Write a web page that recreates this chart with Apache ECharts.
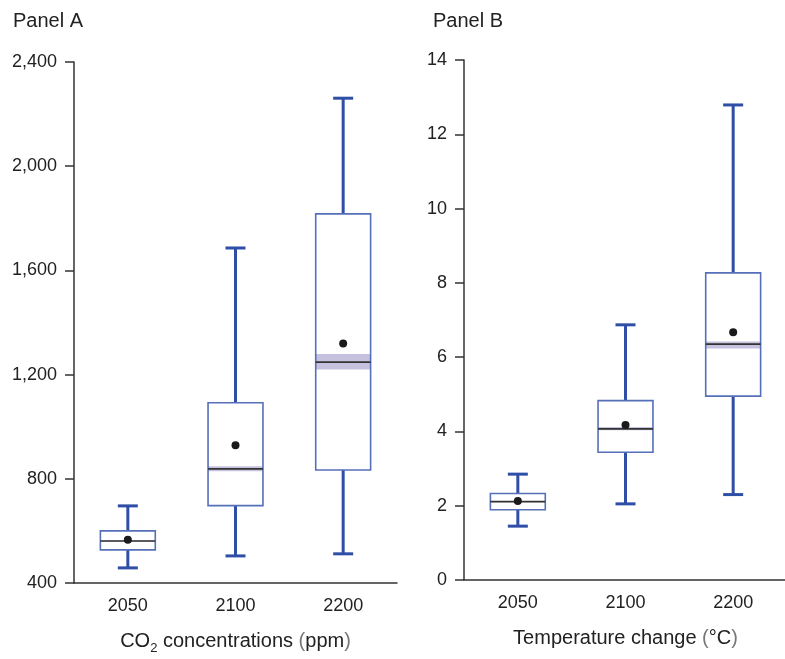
<!DOCTYPE html>
<html>
<head>
<meta charset="utf-8">
<script src="https://cdn.jsdelivr.net/npm/echarts@6/dist/echarts.min.js"></script>
<style>
  html, body { margin: 0; padding: 0; background: #fff; }
  #chart { width: 785px; height: 659px; }
</style>
</head>
<body>
<div id="chart"></div>
<script>
const categories = ['2050', '2100', '2200'];

// Panel A: CO2 concentrations (ppm)
const co2Low = [458, 504, 512];
const co2Q1 = [527, 697, 834];
const co2Median = [561, 838, 1248];
const co2Q3 = [600, 1092, 1817];
const co2High = [696, 1686, 2261];
const co2Mean = [566, 929, 1319];
const co2BandLow = [558, 829, 1220];
const co2BandHigh = [564, 848, 1279];

// Panel B: Temperature change (°C)
const tempLow = [1.45, 2.05, 2.30];
const tempQ1 = [1.89, 3.44, 4.95];
const tempMedian = [2.11, 4.07, 6.35];
const tempQ3 = [2.33, 4.83, 8.27];
const tempHigh = [2.85, 6.87, 12.79];
const tempMean = [2.13, 4.17, 6.67];
const tempBandLow = [2.09, 4.03, 6.23];
const tempBandHigh = [2.13, 4.12, 6.42];

const FONT = '"Liberation Sans", Arial, sans-serif';
const textColor = '#222';
const axisColor = '#333';
const whiskerColor = '#2f4ea6';
const boxColor = '#5570b9';
const bandColor = '#c5c1df';

function rows(low, q1, med, q3, high, mean, bLo, bHi) {
  return categories.map((c, i) => [i, low[i], q1[i], med[i], q3[i], high[i], mean[i], bLo[i], bHi[i]]);
}

function renderBox(params, api) {
  const x = api.value(0);
  const band = api.size([1, 0])[0];
  const half = band * 0.255;
  const capHalf = 10;
  const p = (v) => api.coord([x, v]);
  const low = p(api.value(1));
  const q1 = p(api.value(2));
  const med = p(api.value(3));
  const q3 = p(api.value(4));
  const high = p(api.value(5));
  const mean = p(api.value(6));
  const bLo = p(api.value(7));
  const bHi = p(api.value(8));
  const cx = low[0];
  const whisker = { stroke: whiskerColor, lineWidth: 3, fill: null };
  return {
    type: 'group',
    children: [
      { type: 'rect', shape: { x: cx - half, y: bHi[1], width: half * 2, height: bLo[1] - bHi[1] },
        style: { fill: bandColor } },
      { type: 'line', shape: { x1: cx, y1: q3[1], x2: cx, y2: high[1] }, style: whisker },
      { type: 'line', shape: { x1: cx - capHalf, y1: high[1], x2: cx + capHalf, y2: high[1] }, style: whisker },
      { type: 'line', shape: { x1: cx, y1: q1[1], x2: cx, y2: low[1] }, style: whisker },
      { type: 'line', shape: { x1: cx - capHalf, y1: low[1], x2: cx + capHalf, y2: low[1] }, style: whisker },
      { type: 'rect', shape: { x: cx - half, y: q3[1], width: half * 2, height: q1[1] - q3[1] },
        style: { fill: null, stroke: boxColor, lineWidth: 1.6 } },
      { type: 'line', shape: { x1: cx - half, y1: med[1], x2: cx + half, y2: med[1] },
        style: { stroke: '#333', lineWidth: 1.6 } },
      { type: 'circle', shape: { cx: mean[0], cy: mean[1], r: 4 }, style: { fill: '#1a1a1a' } }
    ]
  };
}

function xAxisFor(gridIndex, name) {
  return {
    type: 'category',
    gridIndex: gridIndex,
    data: categories,
    boundaryGap: true,
    axisLine: { show: true, lineStyle: { color: axisColor, width: 1.5 } },
    axisTick: { show: false },
    axisLabel: { color: textColor, fontSize: 18, fontFamily: FONT, margin: 14 },
    name: name,
    nameLocation: 'middle',
    nameGap: 44,
    nameTextStyle: {
      color: textColor, fontSize: 20, fontFamily: FONT,
      rich: {
        a: { fontSize: 20, fontFamily: FONT, color: textColor, lineHeight: 28 },
        p: { fontSize: 20, fontFamily: FONT, color: '#777', lineHeight: 28 },
        sub: { fontSize: 13, fontFamily: FONT, color: textColor, lineHeight: 16, verticalAlign: 'bottom' }
      }
    }
  };
}

function yAxisFor(gridIndex, min, max, interval, fmt) {
  return {
    type: 'value',
    gridIndex: gridIndex,
    min: min,
    max: max,
    interval: interval,
    splitLine: { show: false },
    axisLine: { show: true, lineStyle: { color: axisColor, width: 1.5 } },
    axisTick: { show: true, length: 9, lineStyle: { color: axisColor, width: 1.5 } },
    axisLabel: { color: textColor, fontSize: 18, fontFamily: FONT, margin: 17, formatter: fmt }
  };
}

const chart = echarts.init(document.getElementById('chart'), null, { renderer: 'canvas' });

chart.setOption({
  animation: false,
  backgroundColor: '#fff',
  title: [
    { text: 'Panel A', left: 8, top: 6, textStyle: { fontSize: 20, fontWeight: 'normal', color: textColor, fontFamily: FONT } },
    { text: 'Panel B', left: 428, top: 6, textStyle: { fontSize: 20, fontWeight: 'normal', color: textColor, fontFamily: FONT } }
  ],
  grid: [
    { left: 74, top: 62, width: 323, height: 521, outerBoundsMode: 'none', containLabel: false },
    { left: 464, top: 60, width: 323, height: 520, outerBoundsMode: 'none', containLabel: false }
  ],
  xAxis: [
    xAxisFor(0, '{a|CO}{sub|2}{a| concentrations }{p|(}{a|ppm}{p|)}'),
    xAxisFor(1, '{a|Temperature change }{p|(}{a|°C}{p|)}')
  ],
  yAxis: [
    yAxisFor(0, 400, 2400, 400, (v) => v.toLocaleString('en-US')),
    yAxisFor(1, 0, 14, 2, (v) => String(v))
  ],
  series: [
    {
      type: 'custom',
      xAxisIndex: 0,
      yAxisIndex: 0,
      renderItem: renderBox,
      encode: { x: 0, y: [1, 2, 3, 4, 5, 6, 7, 8] },
      data: rows(co2Low, co2Q1, co2Median, co2Q3, co2High, co2Mean, co2BandLow, co2BandHigh)
    },
    {
      type: 'custom',
      xAxisIndex: 1,
      yAxisIndex: 1,
      renderItem: renderBox,
      encode: { x: 0, y: [1, 2, 3, 4, 5, 6, 7, 8] },
      data: rows(tempLow, tempQ1, tempMedian, tempQ3, tempHigh, tempMean, tempBandLow, tempBandHigh)
    }
  ]
});
</script>
</body>
</html>
